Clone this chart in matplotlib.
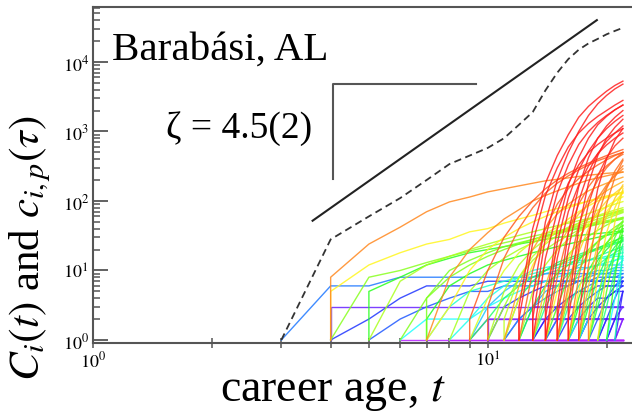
import numpy as np
import matplotlib
matplotlib.use("Agg")
import matplotlib.pyplot as plt
from matplotlib.colors import hsv_to_rgb
from matplotlib.ticker import FuncFormatter, LogLocator

plt.rcParams['font.family'] = ['Liberation Serif', 'DejaVu Serif']
plt.rcParams['mathtext.fontset'] = 'stix'

# ---- data ----
total_t = [3, 4, 5, 6, 7, 8, 9, 10, 11, 12, 13, 14, 15, 16, 17, 18, 19, 20, 21, 22]
total_c = [1, 28, 60, 110, 200, 340, 450, 580, 800, 1250, 1900, 3900, 7000,
           11000, 15000, 18500, 21500, 25000, 28000, 31000]

fit_t = [3.6, 18.9]
fit_c = [52, 40000]

slope_t = [9.34, 4.06, 4.06]
slope_c = [4820, 4820, 207]

paper_start = [3, 4, 4, 4, 4, 4, 5, 5, 5, 6, 6, 6, 7, 7, 7, 7, 7, 8, 8, 8,
               9, 9, 9, 9, 9, 10, 10, 10, 10, 10, 10, 11, 11, 11, 11, 11, 11,
               12, 12, 12, 12, 12, 12, 12, 13, 13, 13, 13, 13, 13, 13, 13,
               14, 14, 14, 14, 14, 14, 14, 14, 15, 15, 15, 15, 15, 15, 15, 15, 15,
               16, 16, 16, 16, 16, 16, 16, 16, 16, 17, 17, 17, 17, 17, 17, 17, 17,
               18, 18, 18, 18, 18, 18, 19, 19, 19, 19, 19, 20, 20, 20, 20, 21, 21, 21]

paper_cites = [
    [1, 6, 6, 8, 8, 8, 8, 8, 8, 8, 8, 9, 9, 9, 9, 9, 9, 9, 9, 9],
    [8, 24, 42, 70, 97, 114, 135, 150, 165, 180, 195, 205, 215, 225, 235, 242, 250, 255, 262],
    [5, 12, 18, 24, 28, 36, 40, 48, 55, 62, 70, 78, 85, 92, 100, 108, 115, 122, 130],
    [1, 8, 10, 13, 16, 19, 22, 25, 28, 31, 34, 37, 40, 43, 46, 49, 52, 55, 58],
    [1, 2, 4, 6, 6, 6, 7, 7, 7, 7, 7, 7, 7, 7, 7, 7, 7, 7, 7],
    [3, 3, 3, 3, 3, 3, 3, 3, 3, 3, 3, 3, 3, 3, 3, 3, 3, 3, 3],
    [1, 7, 12, 16, 20, 24, 28, 32, 36, 40, 44, 48, 52, 56, 60, 64, 68, 72],
    [1, 2, 3, 4, 5, 5, 6, 6, 6, 7, 7, 7, 7, 7, 8, 8, 8, 8],
    [5, 8, 12, 15, 18, 20, 22, 24, 26, 28, 30, 31, 32, 33, 34, 35, 36, 37],
    [1, 2, 2, 2, 3, 4, 5, 6, 7, 8, 9, 10, 11, 12, 13, 14, 15],
    [1, 4, 8, 12, 16, 20, 24, 28, 32, 35, 38, 41, 44, 47, 50, 53, 56],
    [1, 1, 1, 1, 1, 1, 1, 1, 1, 1, 1, 1, 1, 1, 1, 1, 1],
    [1, 8, 20, 35, 55, 75, 100, 120, 140, 160, 180, 200, 215, 230, 245, 260],
    [1, 3, 10, 20, 30, 40, 50, 60, 70, 80, 90, 100, 110, 118, 126, 134],
    [4, 10, 14, 18, 22, 25, 28, 31, 34, 37, 40, 43, 46, 49, 52, 55],
    [2, 6, 9, 12, 14, 16, 18, 20, 22, 24, 26, 28, 30, 32, 34, 36],
    [1, 3, 5, 6, 7, 8, 9, 10, 11, 12, 13, 14, 15, 16, 17, 18],
    [1, 1, 1, 1, 1, 1, 1, 1, 1, 1, 1, 1, 1, 1, 1],
    [1, 5, 10, 15, 20, 25, 30, 35, 40, 45, 50, 55, 60, 65, 70],
    [1, 2, 4, 6, 8, 10, 11, 12, 13, 14, 14, 15, 15, 16, 16],
    [1, 2, 2, 2, 2, 2, 2, 2, 2, 2, 2, 2, 2, 2],
    [1, 3, 5, 7, 8, 9, 10, 10, 11, 11, 12, 12, 12, 12],
    [2, 10, 30, 60, 100, 150, 200, 250, 300, 350, 400, 450, 500, 550],
    [1, 4, 10, 18, 26, 34, 42, 50, 58, 66, 74, 82, 90, 98],
    [1, 2, 4, 6, 8, 10, 12, 14, 16, 18, 20, 22, 24, 26],
    [1, 3, 4, 5, 6, 6, 6, 7, 7, 7, 7, 7, 7],
    [1, 5, 12, 20, 28, 35, 42, 48, 54, 60, 65, 70, 75],
    [2, 2, 2, 2, 2, 2, 2, 2, 2, 2, 2, 2, 2],
    [3, 15, 40, 80, 130, 180, 230, 280, 330, 380, 420, 460, 500],
    [1, 3, 8, 14, 20, 26, 32, 38, 44, 50, 56, 62, 68],
    [1, 1, 1, 1, 1, 1, 1, 1, 1, 1, 1, 1, 1],
    [1, 6, 20, 40, 65, 90, 115, 140, 160, 180, 200, 220],
    [2, 8, 16, 24, 32, 40, 48, 55, 62, 68, 74, 80],
    [1, 2, 3, 4, 5, 6, 7, 8, 9, 9, 10, 10],
    [1, 4, 7, 10, 13, 15, 17, 19, 21, 23, 25, 27],
    [1, 2, 3, 3, 3, 3, 3, 3, 3, 3, 3, 3],
    [1, 4, 12, 25, 40, 55, 70, 85, 100, 112, 124, 135],
    [3, 40, 180, 450, 900, 1600, 2300, 3000, 3800, 4600, 5300],
    [2, 25, 120, 300, 600, 950, 1300, 1650, 2000, 2400, 2800],
    [1, 10, 40, 90, 150, 210, 270, 330, 390, 450, 500],
    [1, 5, 12, 20, 28, 36, 44, 52, 60, 68, 75],
    [1, 3, 5, 6, 7, 8, 9, 10, 10, 11, 11],
    [1, 3, 6, 9, 12, 15, 18, 21, 24, 27, 30],
    [1, 1, 2, 2, 2, 2, 2, 2, 2, 2, 2],
    [4, 50, 200, 500, 1000, 1700, 2500, 3300, 4100, 4800],
    [2, 30, 130, 330, 650, 1000, 1350, 1700, 2050, 2400],
    [1, 15, 70, 180, 330, 500, 650, 800, 950, 1100],
    [1, 6, 20, 40, 65, 90, 115, 140, 165, 190],
    [1, 4, 10, 17, 24, 31, 38, 45, 52, 58],
    [1, 3, 6, 9, 12, 14, 16, 18, 20, 22],
    [1, 2, 3, 4, 5, 5, 6, 6, 6, 6],
    [1, 1, 1, 1, 1, 1, 1, 1, 1, 1],
    [3, 40, 170, 420, 800, 1250, 1650, 2050, 2400],
    [2, 25, 110, 280, 520, 800, 1100, 1400, 1700],
    [1, 15, 70, 170, 320, 480, 640, 800, 950],
    [1, 8, 35, 90, 160, 240, 320, 400, 470],
    [1, 5, 15, 30, 48, 66, 84, 100, 115],
    [1, 3, 8, 14, 20, 26, 32, 38, 44],
    [1, 2, 4, 5, 6, 7, 8, 8, 9],
    [1, 2, 2, 2, 2, 2, 2, 2, 2],
    [3, 35, 160, 420, 800, 1200, 1600, 2000],
    [2, 20, 100, 260, 480, 720, 950, 1200],
    [1, 10, 45, 110, 200, 300, 400, 500],
    [1, 6, 25, 60, 110, 170, 230, 290],
    [1, 5, 18, 40, 70, 100, 130, 160],
    [1, 4, 10, 18, 26, 34, 42, 50],
    [1, 3, 6, 9, 12, 15, 18, 21],
    [1, 2, 3, 4, 5, 6, 6, 7],
    [1, 1, 1, 1, 1, 1, 1, 1],
    [3, 40, 180, 450, 800, 1150, 1500],
    [2, 20, 90, 230, 420, 620, 800],
    [1, 8, 35, 90, 160, 240, 320],
    [1, 5, 18, 40, 70, 100, 130],
    [1, 4, 10, 17, 25, 33, 40],
    [1, 3, 8, 14, 20, 26, 32],
    [1, 2, 5, 8, 11, 14, 16],
    [1, 2, 3, 4, 4, 5, 5],
    [1, 1, 2, 2, 2, 2, 2],
    [2, 30, 150, 400, 750, 1100],
    [1, 12, 60, 150, 270, 400],
    [1, 6, 25, 60, 110, 170],
    [1, 4, 12, 24, 38, 52],
    [1, 3, 8, 15, 22, 29],
    [1, 2, 5, 8, 11, 14],
    [1, 2, 3, 4, 5, 6],
    [1, 1, 1, 1, 1, 1],
    [2, 20, 90, 220, 380],
    [1, 8, 35, 80, 140],
    [1, 4, 14, 30, 50],
    [1, 3, 9, 18, 28],
    [1, 2, 4, 6, 8],
    [1, 1, 2, 2, 2],
    [1, 10, 50, 150],
    [1, 5, 18, 45],
    [1, 3, 10, 24],
    [1, 2, 4, 7],
    [1, 1, 2, 3],
    [1, 8, 40],
    [1, 4, 15],
    [1, 2, 5],
    [1, 1, 2],
    [1, 20],
    [1, 5],
    [1, 2],
]

author_label = "Barabási, AL"
zeta_label = "ζ = 4.5(2)"

# ---- style helpers ----
hue_logc = [0.0, 0.477, 0.845, 1.176, 1.477, 1.778, 2.114, 2.398, 2.7, 3.0]
hue_vals = [0.78, 0.72, 0.65, 0.5, 0.36, 0.25, 0.16, 0.08, 0.05, 0.0]

def paper_color(final):
    h = np.interp(np.log10(final), hue_logc, hue_vals)
    return hsv_to_rgb((h, 0.88, 1.0))

fig = plt.figure(figsize=(6.32, 4.14), dpi=100)
ax = fig.add_axes([93/632, 70/414, 539/632, 336/414])
ax.set_xscale('log')
ax.set_yscale('log')

order = sorted(range(len(paper_cites)), key=lambda k: paper_cites[k][-1])
for k in order:
    t0 = paper_start[k]
    vals = paper_cites[k]
    ts = [t0] + list(range(t0, t0 + len(vals)))
    cs = [1] + list(vals)
    ax.plot(ts, cs, color=paper_color(vals[-1]), lw=1.0, alpha=0.85,
            solid_joinstyle='round')

ax.plot(total_t, total_c, color='#333333', lw=1.3, dashes=(4, 2.5))
ax.plot(fit_t, fit_c, color='#222222', lw=1.5)
ax.plot(slope_t, slope_c, color='#555555', lw=1.5)

ax.set_xlim(1, 23.2)
ax.set_ylim(0.905, 61800)

pow_fmt = FuncFormatter(lambda v, p: r"$10^{%d}$" % int(round(np.log10(v))))
ax.xaxis.set_major_formatter(pow_fmt)
ax.yaxis.set_major_formatter(pow_fmt)
ax.yaxis.set_major_locator(LogLocator(base=10, numticks=12))

for s in ['left', 'bottom', 'top']:
    ax.spines[s].set_color('#555555')
    ax.spines[s].set_linewidth(1.5)
ax.spines['right'].set_visible(False)

ax.tick_params(axis='y', which='major', direction='in', length=11, width=1.3,
               color='#555555', labelsize=13, pad=3)
ax.tick_params(axis='y', which='minor', direction='in', length=5, width=1.1,
               color='#555555')
ax.tick_params(axis='x', which='both', direction='inout', length=7, width=1.1,
               color='#555555', labelsize=13, pad=2)
ax.tick_params(axis='y', which='both', right=False)
ax.tick_params(axis='x', which='both', top=False)

ax.set_xlabel("career age, $t$", fontsize=33)
ax.set_ylabel("$C_i(t)$ and $c_{i,p}(\\tau)$", fontsize=31)
ax.xaxis.label.set_va('center')
ax.yaxis.label.set_va('center')
ax.xaxis.set_label_coords(0.445, -0.143)
ax.yaxis.set_label_coords(-0.117, 0.285)

ax.text(0.035, 0.875, author_label, transform=ax.transAxes, fontsize=29.5,
        ha='left', va='center')
ax.text(0.135, 0.64, zeta_label, transform=ax.transAxes, fontsize=27,
        ha='left', va='center')

fig.savefig("out.png", dpi=100)
